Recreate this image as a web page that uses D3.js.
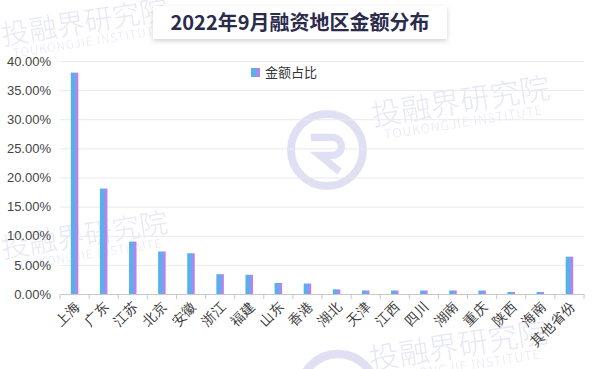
<!DOCTYPE html>
<html lang="zh">
<head>
  <meta charset="UTF-8">
  <title>2022年9月融资地区金额分布</title>
  <script src="https://d3js.org/d3.v7.min.js"></script>
  <style>
    body { margin: 0; background: #fff; }
    svg { display: block; font-family: "Noto Sans CJK SC", "Noto Sans", sans-serif; }
    .grid line { stroke: #e9e9ee; }
    .grid .domain { display: none; }
    .y-axis .domain, .y-axis line { display: none; }
    .y-axis text { fill: #444; font-size: 13px; }
    .x-axis .domain, .x-axis line { stroke: #c8c8c8; }
    .x-axis text { fill: #333; font-size: 13.5px; }
    .wm { fill: #c9cbe8; opacity: 0.45; font-weight: 300; }
  </style>
</head>
<body>
  <svg id="chart" width="600" height="369"></svg>
  <script>
    // data
    const regions = ["上海", "广东", "江苏", "北京", "安徽", "浙江", "福建", "山东", "香港",
                     "湖北", "天津", "江西", "四川", "湖南", "重庆", "陕西", "海南", "其他省份"];
    const shares = [38.0, 18.1, 9.0, 7.3, 7.0, 3.4, 3.3, 1.9, 1.8,
                    0.8, 0.6, 0.6, 0.6, 0.6, 0.6, 0.35, 0.35, 6.4];
    const yTicks = [0, 5, 10, 15, 20, 25, 30, 35, 40];
    const seriesName = "金额占比";

    const svg = d3.select("#chart"),
          width = +svg.attr("width"),
          height = +svg.attr("height");
    const margin = { top: 61, right: 16, bottom: 75, left: 60 };

    const defs = svg.append("defs");
    const grad = defs.append("linearGradient").attr("id", "barGrad")
      .attr("x1", 0).attr("x2", 1).attr("y1", 0).attr("y2", 0);
    grad.append("stop").attr("offset", "0%").attr("stop-color", "#52b2ea");
    grad.append("stop").attr("offset", "55%").attr("stop-color", "#62acec");
    grad.append("stop").attr("offset", "75%").attr("stop-color", "#b683ef");
    grad.append("stop").attr("offset", "100%").attr("stop-color", "#bb80ee");

    const shadow = defs.append("filter").attr("id", "shadow")
      .attr("x", "-10%").attr("y", "-30%").attr("width", "120%").attr("height", "170%");
    shadow.append("feDropShadow").attr("dx", 0).attr("dy", 2)
      .attr("stdDeviation", 2.5).attr("flood-color", "#000").attr("flood-opacity", 0.18);

    const x = d3.scaleBand().domain(regions)
      .range([margin.left, width - margin.right]).padding(0);
    const y = d3.scaleLinear().domain([0, 40])
      .range([height - margin.bottom, margin.top]);

    // watermarks (drawn under everything)
    const wm = svg.append("g");
    function stamp(cx, cy, big) {
      const g = wm.append("g").attr("transform", `translate(${cx},${cy}) rotate(-9)`);
      g.append("text").attr("class", "wm").attr("text-anchor", "middle")
        .style("font-size", big + "px").text("投融界研究院");
      g.append("text").attr("class", "wm").attr("text-anchor", "middle")
        .attr("y", big * 0.5).style("font-size", (big * 0.42) + "px")
        .style("letter-spacing", "1px").text("TOUKONGJIE INSTITUTE");
    }
    stamp(86, 32, 28);
    stamp(86, 245, 28);
    stamp(462, 112, 30);
    stamp(460, 356, 30);
    function logo(cx, cy, r) {
      const g = wm.append("g").attr("transform", `translate(${cx},${cy})`).attr("opacity", 0.55);
      g.append("circle").attr("r", r).attr("fill", "none")
        .attr("stroke", "#c5c8ea").attr("stroke-width", r * 0.22);
      g.append("path").attr("fill", "none").attr("stroke", "#c5c8ea")
        .attr("stroke-width", r * 0.2)
        .attr("d", `M${-r * 0.45},${-r * 0.35} H${r * 0.15} A${r * 0.25},${r * 0.25} 0 0 1 ${r * 0.15},${r * 0.15} H${-r * 0.2} L${r * 0.35},${r * 0.6}`);
    }
    logo(327, 150, 36);
    logo(338, 392, 38);

    // grid
    svg.append("g").attr("class", "grid")
      .attr("transform", `translate(${margin.left},0)`)
      .call(d3.axisLeft(y).tickValues(yTicks.slice(1)).tickSize(-(width - margin.left - margin.right)).tickFormat(""));

    // y axis
    svg.append("g").attr("class", "y-axis")
      .attr("transform", `translate(${margin.left - 6},0)`)
      .call(d3.axisLeft(y).tickValues(yTicks).tickSize(0).tickFormat(d => d3.format(".2f")(d) + "%"));

    // bars
    const bw = 7.5;
    svg.append("g").selectAll("rect").data(regions).join("rect")
      .attr("x", d => x(d) + x.bandwidth() / 2 - bw / 2)
      .attr("width", bw)
      .attr("y", (d, i) => y(shares[i]))
      .attr("height", (d, i) => y(0) - y(shares[i]))
      .attr("fill", "url(#barGrad)");

    // x axis with ticks on band boundaries
    const xAxis = svg.append("g").attr("class", "x-axis")
      .attr("transform", `translate(0,${y(0)})`)
      .call(d3.axisBottom(x).tickSize(0));
    xAxis.selectAll(".tick text")
      .attr("x", 0).attr("y", 0).attr("dy", "0.35em")
      .attr("text-anchor", "end")
      .attr("transform", "translate(3,10) rotate(-45)");
    xAxis.selectAll(".bound").data(regions.concat([null])).join("line")
      .attr("class", "bound")
      .attr("x1", (d, i) => margin.left + i * x.step())
      .attr("x2", (d, i) => margin.left + i * x.step())
      .attr("y1", 0).attr("y2", 5);

    // legend
    const lg = svg.append("g").attr("transform", "translate(251,68)");
    lg.append("rect").attr("width", 9).attr("height", 9).attr("fill", "url(#barGrad)");
    lg.append("text").attr("x", 14).attr("y", 9).style("font-size", "13px")
      .attr("fill", "#333").text(seriesName);

    // title box
    const tg = svg.append("g");
    tg.append("rect").attr("x", 153).attr("y", 6).attr("width", 294).attr("height", 33)
      .attr("fill", "#fff").attr("filter", "url(#shadow)");
    tg.append("text").attr("x", width / 2).attr("y", 30).attr("text-anchor", "middle")
      .style("font-size", "20px").style("font-weight", "bold").attr("fill", "#2b2b4b")
      .text("2022年9月融资地区金额分布");
  </script>
</body>
</html>
